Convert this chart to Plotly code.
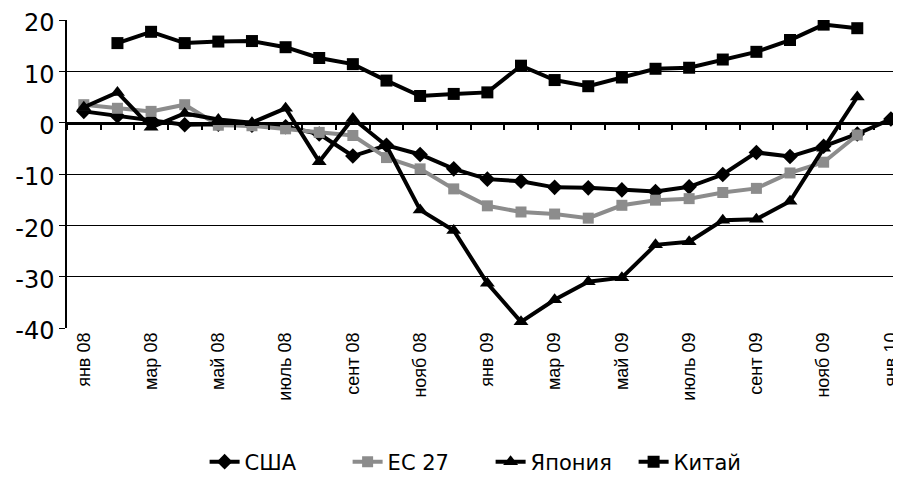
import plotly.graph_objects as go

months = ["янв 08", "фев 08", "мар 08", "апр 08", "май 08", "июнь 08", "июль 08", "авг 08",
          "сент 08", "окт 08", "нояб 08", "дек 08", "янв 09", "фев 09", "мар 09", "апр 09",
          "май 09", "июнь 09", "июль 09", "авг 09", "сент 09", "окт 09", "нояб 09", "дек 09", "янв 10"]

usa = [2.2, 1.3, 0.5, -0.4, -0.3, -0.5, -0.8, -2.2, -6.5, -4.4, -6.2, -9.0, -11.0, -11.4,
       -12.6, -12.7, -13.1, -13.4, -12.5, -10.1, -5.8, -6.6, -4.6, -2.2, 0.7]
eu27 = [3.5, 2.8, 2.2, 3.5, -0.5, -0.6, -1.2, -1.9, -2.5, -6.8, -9.0, -12.9, -16.2, -17.4,
        -17.8, -18.6, -16.1, -15.1, -14.8, -13.6, -12.8, -9.8, -7.7, -2.4, None]
japan = [3.0, 5.9, -0.9, 1.8, 0.6, 0.0, 2.8, -7.6, 0.8, -4.5, -17.0, -21.0, -31.3, -38.8,
         -34.5, -31.0, -30.2, -23.8, -23.2, -19.0, -18.8, -15.3, -5.0, 5.0, None]
china = [None, 15.5, 17.7, 15.5, 15.8, 15.9, 14.7, 12.6, 11.4, 8.2, 5.2, 5.6, 5.9, 11.1,
         8.3, 7.1, 8.8, 10.5, 10.7, 12.3, 13.8, 16.1, 19.1, 18.4, None]

y_ticks = [20, 10, 0, -10, -20, -30, -40]
y_tick_text = ["20", "10", "0", "-10", "-20", "-30", "-40"]

tick_idx = list(range(0, len(months), 2))
tick_text = [months[i] for i in tick_idx]
boundaries = [i + 0.5 for i in range(-1, len(months))]

x = list(range(len(months)))
FONT = "Liberation Sans, Arial, sans-serif"
WIDE = "DejaVu Sans, sans-serif"

fig = go.Figure()
series = [
    ("США", usa, "black", "diamond", 12),
    ("ЕС 27", eu27, "#8c8c8c", "square", 11),
    ("Япония", japan, "black", "triangle-up", 13),
    ("Китай", china, "black", "square", 12),
]
for name, vals, col, sym, sz in series:
    fig.add_trace(go.Scatter(
        x=x, y=vals, name=name, mode="lines+markers",
        line=dict(color=col, width=4),
        marker=dict(symbol=sym, size=sz, color=col),
        connectgaps=False,
    ))

# page has an 8px body margin, so the figure is 8px smaller than the window
xr = [-0.5, 24.3]
fig.update_layout(
    width=893, height=486,
    margin=dict(l=59, r=0, t=12, b=166, autoexpand=False),
    paper_bgcolor="white", plot_bgcolor="white",
    font=dict(family=FONT, color="black"),
    xaxis=dict(
        range=xr, tickmode="array", tickvals=tick_idx, ticktext=tick_text,
        tickangle=-90, tickfont=dict(size=18, color="black"),
        showgrid=False, zeroline=False, showline=False, ticks="",
        automargin=False, ticklabeloverflow="allow",
    ),
    xaxis2=dict(
        overlaying="x", anchor="free", position=2 / 3, side="bottom",
        range=xr, tickmode="array", tickvals=boundaries,
        showticklabels=False, ticks="outside", ticklen=6, tickwidth=2, tickcolor="black",
        showline=True, linecolor="black", linewidth=2.5,
        showgrid=False, zeroline=False, automargin=False,
    ),
    yaxis=dict(
        range=[-40, 20], tickmode="array", tickvals=y_ticks, ticktext=y_tick_text,
        showgrid=True, gridcolor="black", gridwidth=1,
        zeroline=False, showline=True, linecolor="black", linewidth=1.5,
        ticks="outside", ticklen=6, tickcolor="black",
        tickfont=dict(family=WIDE, size=24, color="black"), automargin=False,
        ticklabeloverflow="allow", ticklabelshift=3,
    ),
    legend=dict(
        orientation="h", x=0.165, xanchor="left", y=-0.435, yanchor="middle",
        font=dict(family=WIDE, size=21, color="black"), entrywidth=98, entrywidthmode="pixels",
    ),
    showlegend=True,
)
fig.add_trace(go.Scatter(x=[None], y=[None], xaxis="x2", showlegend=False, hoverinfo="skip"))

fig.write_html("out.html")
